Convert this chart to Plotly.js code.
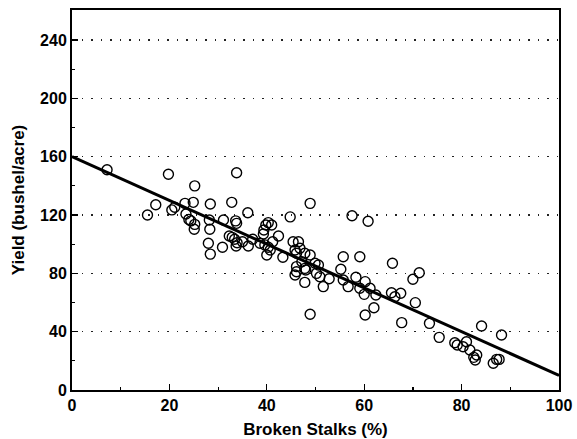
<!DOCTYPE html>
<html>
<head>
<meta charset="utf-8">
<script src="https://cdn.plot.ly/plotly-3.0.1.min.js"></script>
<style>html,body{margin:0;padding:0;background:#fff;}#chart{width:577px;height:439px;}</style>
</head>
<body>
<div id="chart"></div>
<script>
// Broken stalks (%) observations
const brokenStalks = [7.2,15.5,17.2,19.8,20.5,21.1,23.2,24.9,23.4,24,24.4,25.2,25.1,25.2,28.4,28.2,28.3,28,28.4,33.8,32.8,36.1,44.8,48.9,31.1,30.9,33.6,33.8,32.3,32.9,33.4,33.9,33.7,35,36.2,37.1,39.4,39.8,40.3,41,39.3,38.6,39.6,40.3,40.7,40,41.2,42.4,43.3,45.4,46.5,45.8,46.1,46.8,47.8,46.1,46.1,45.8,47.8,48,47.8,48.9,57.5,60.8,47.2,48.9,49.9,50.6,50.2,50.9,51.6,52.8,55.7,55.2,55.7,56.7,58.3,59.1,59.1,60.2,60,61.2,62.4,62,60.2,65.8,65.6,66.3,67.5,67.7,70,71.3,70.5,73.4,75.4,78.6,79.1,80.3,81,81.7,83.1,82.8,82.5,84.1,88.2,86.5,87.2,87.7];
// Yield (bushel/acre) observations
const yieldObs = [151,120,127,148,123.5,125.3,128,128.7,120.7,117,116,113.6,110.2,140,127.6,116.6,110.2,100.6,93.2,149,128.7,121.6,118.7,128,116.6,97.9,116,114.3,105.6,104.7,103.4,101,98.8,101.7,98.8,103.4,109.7,113.2,114.8,113.2,107,100.6,99.5,97.9,96,92.6,101.7,105.6,91,101.7,101.7,96,93.8,97.2,93.8,84.6,81.1,78.9,83.4,82.3,73.8,51.9,119.5,115.7,88,92.6,86.9,85.7,80,77.7,70.9,76.3,91.4,82.8,75.4,70.9,77.3,91.4,69.8,74.3,65.6,69.8,65.2,56.4,51.4,86.9,66.7,64,66.3,46.2,75.9,80.4,59.9,45.7,36.1,32.4,30.9,29.7,33.1,27.4,24,20.6,22.4,43.9,37.7,18.3,21,21];
// Fitted regression line endpoints
const fitX = [0, 100];
const fitY = [160, 10];

const xTickVals = [0,20,40,60,80,100];
const yTickVals = [0,40,80,120,160,200,240];

const traces = [
  {
    x: brokenStalks, y: yieldObs, type: 'scatter', mode: 'markers',
    marker: {symbol: 'circle-open', size: 10, color: '#000', line: {width: 1.4, color: '#000'}},
    hoverinfo: 'x+y', showlegend: false
  },
  {
    x: fitX, y: fitY, type: 'scatter', mode: 'lines',
    line: {color: '#000', width: 3}, showlegend: false
  }
];

const fontFam = 'Liberation Sans, Arial, Helvetica, sans-serif';
const layout = {
  width: 577, height: 439,
  margin: {l: 72, r: 18, t: 10, b: 49},
  paper_bgcolor: '#fff', plot_bgcolor: '#fff',
  font: {family: fontFam, color: '#000', size: 16},
  xaxis: {
    range: [0, 100], tickvals: xTickVals, ticktext: xTickVals.map(String),
    ticks: 'inside', ticklen: 6, tickwidth: 1.2, tickcolor: '#000',
    minor: {dtick: 10, tick0: 0, ticks: 'inside', ticklen: 3, tickcolor: '#000', showgrid: false},
    showgrid: false, zeroline: false,
    showline: true, linecolor: '#000', linewidth: 2, mirror: true,
    tickfont: {family: fontFam, size: 16, color: '#000', weight: 700},
    title: {text: '<b>Broken Stalks (%)</b>', font: {family: fontFam, size: 17, color: '#000'}, standoff: 11}
  },
  yaxis: {
    range: [0, 260.6], tickvals: yTickVals, ticktext: yTickVals.map(String),
    ticks: 'inside', ticklen: 6, tickwidth: 1.2, tickcolor: '#000',
    minor: {dtick: 20, tick0: 0, ticks: 'inside', ticklen: 3, tickcolor: '#000', showgrid: false},
    showgrid: true, gridcolor: '#222', griddash: '1.5px,8px', gridwidth: 1.2,
    zeroline: false,
    showline: true, linecolor: '#000', linewidth: 2, mirror: true,
    tickfont: {family: fontFam, size: 16, color: '#000', weight: 700},
    title: {text: '<b>Yield (bushel/acre)</b>', font: {family: fontFam, size: 17, color: '#000'}, standoff: 11}
  }
};

Plotly.newPlot('chart', traces, layout, {displayModeBar: false, staticPlot: true});
</script>
</body>
</html>
